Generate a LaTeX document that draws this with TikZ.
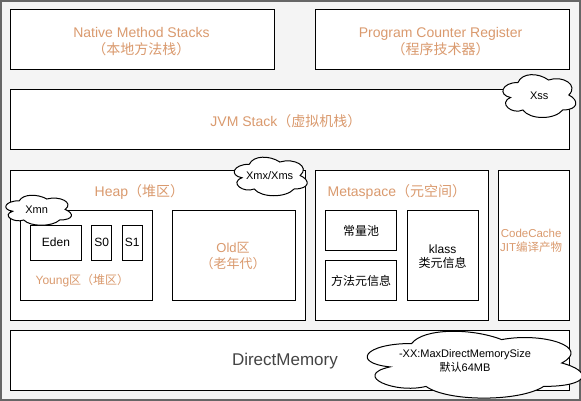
\documentclass[tikz,border=0pt]{standalone}
\usepackage{fontspec}
\setmainfont{Liberation Sans}
\newfontfamily\cjk{Noto Sans CJK SC}
\usetikzlibrary{fit}
\definecolor{bgc}{HTML}{F4F4F4}
\definecolor{brd}{HTML}{666666}
\definecolor{ort}{HTML}{DA9A6E}
\definecolor{dmt}{HTML}{444444}
\tikzset{
  box/.style={draw=black, line width=1pt, fill=white, inner sep=0pt, rectangle},
  olab/.style={text=ort, font=\fontsize{14}{17}\selectfont, align=center, inner sep=0pt},
  blab/.style={text=black, font=\fontsize{12}{14}\selectfont, align=center, inner sep=0pt},
  cloudshape/.style={draw=black, line width=1pt, fill=white},
  clab/.style={text=black, font=\fontsize{11}{13.7}\selectfont, align=center, inner sep=0pt},
}
\newcommand\mxcloud[4]{%
  \begin{scope}[shift={(#1,#2)}, xscale=#3, yscale=#4]
    \draw[cloudshape] (0.25,0.25) .. controls (0.05,0.25) and (0,0.5) .. (0.16,0.55)
      .. controls (0,0.66) and (0.18,0.9) .. (0.31,0.8)
      .. controls (0.4,1) and (0.7,1) .. (0.8,0.8)
      .. controls (1,0.8) and (1,0.6) .. (0.875,0.5)
      .. controls (1,0.3) and (0.8,0.1) .. (0.625,0.2)
      .. controls (0.5,0.05) and (0.3,0.05) .. (0.25,0.25) -- cycle;
  \end{scope}}
\begin{document}
\begin{tikzpicture}[x=1.01757pt, y=-1pt]
\useasboundingbox (0pt,0pt) rectangle (581pt,-401pt);
\draw[draw=brd, line width=2pt, fill=bgc] (1pt,-1pt) rectangle (580pt,-400pt);
% boxes
\node[box, fit={(10,10)(270,70)}] (native) {};
\node[box, fit={(310,10)(560,70)}] (program) {};
\node[box, fit={(10,90)(560,150)}] (jvm) {};
\node[box, fit={(10,170)(300,320)}] (heap) {};
\node[box, fit={(20,210)(150,300)}] (young) {};
\node[box, fit={(30,225)(80,260)}] (eden) {};
\node[box, fit={(90,225)(110,260)}] (s0) {};
\node[box, fit={(120,225)(140,260)}] (s1) {};
\node[box, fit={(170,210)(290,300)}] (old) {};
\node[box, fit={(310,170)(480,320)}] (meta) {};
\node[box, fit={(320,210)(390,250)}] (pool) {};
\node[box, fit={(320,260)(390,300)}] (methodinfo) {};
\node[box, fit={(400,210)(470,300)}] (klass) {};
\node[box, fit={(490,170)(560,320)}] (codecache) {};
\node[box, fit={(10,330)(560,390)}] (direct) {};
% clouds
\mxcloud{489}{70}{80}{50}
\mxcloud{225}{153}{80}{45}
\mxcloud{1}{192}{72}{35}
\mxcloud{345.5}{324}{236}{78}
% orange labels
\node[olab] (nativeL) at (139,41.5) {Native Method Stacks\\{\cjk （本地方法栈）}};
\node[olab] (programL) at (433,41.5) {Program Counter Register\\{\cjk （程序技术器）}};
\node[olab] (jvmL) at (281,121) {JVM Stack{\cjk （虚拟机栈）}};
\node[olab] (heapL) at (137,191.5) {Heap{\cjk （堆区）}};
\node[olab] (metaL) at (390,191.5) {Metaspace{\cjk （元空间）}};
\node[olab, font=\fontsize{12}{15}\selectfont] (youngL) at (81,280.5) {Young{\cjk 区（堆区）}};
\node[olab, font=\fontsize{13}{15.5}\selectfont] (oldL) at (229,256) {Old{\cjk 区}\\{\cjk （老年代）}};
\node[olab, font=\fontsize{11.5}{13.5}\selectfont] (codeL) at (522,241) {CodeCache\\JIT{\cjk 编译产物}};
\node[olab, text=dmt, font=\fontsize{17}{19}\selectfont] (directL) at (280,361) {DirectMemory};
% black labels
\node[blab] (edenL) at (55,242.5) {Eden};
\node[blab] (s0L) at (100,242.5) {S0};
\node[blab] (s1L) at (130,242.5) {S1};
\node[blab] (poolL) at (355,230.5) {\cjk 常量池};
\node[blab] (methodL) at (355,280.5) {\cjk 方法元信息};
\node[blab] (klassL) at (435,256.5) {klass\\{\cjk 类元信息}};
% cloud labels
\node[clab] (xssL) at (530,96) {Xss};
\node[clab] (xmxL) at (265,175.5) {Xmx/Xms};
\node[clab] (xmnL) at (36,209.5) {Xmn};
\node[clab] (dmL) at (457,361) {-XX:MaxDirectMemorySize\\{\cjk 默认}64MB};
\end{tikzpicture}
\end{document}
